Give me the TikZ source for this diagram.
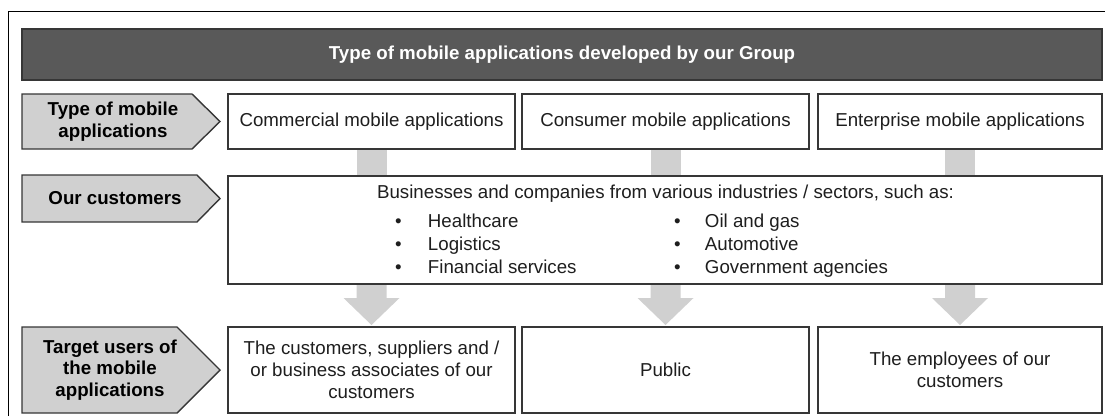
\documentclass[tikz,border=0pt]{standalone}
\usepackage{fontspec}
\setmainfont{Liberation Sans}
\usetikzlibrary{calc,backgrounds}
\definecolor{barfill}{HTML}{595959}
\definecolor{tagfill}{HTML}{D0D0D0}
\definecolor{edge}{HTML}{363636}
\definecolor{ink}{HTML}{1E1E1E}
\definecolor{linkgray}{HTML}{D0D0D0}

\begin{document}
\begin{tikzpicture}[x=1pt,y=-1pt,
  every node/.style={inner sep=0pt, outer sep=0pt},
  base/.style={font=\fontsize{18.7}{21.7}\selectfont, text=ink},
  box/.style={base, draw=edge, line width=1.4pt, fill=white, align=center},
  bar/.style={draw=edge, line width=1.4pt, fill=barfill, text=white,
    font=\fontsize{18.7}{21.7}\selectfont\bfseries},
  tag/.style={draw=edge, line width=1.4pt, fill=tagfill, line join=miter},
  tagtext/.style={font=\fontsize{18.7}{21.7}\selectfont\bfseries, text=black, align=center},
  link/.style={fill=linkgray},
  listtext/.style={font=\fontsize{18.7}{23}\selectfont, text=ink, anchor=west},
]
\useasboundingbox (0,0) rectangle (1105,416);

% outer frame (left and top edges)
\draw[line width=1pt, black] (8.5,416) -- (8.5,11) -- (1105,11);

% heading bar
\node[bar, minimum width=1080pt, minimum height=51pt] (title) at (562,54.5)
  {Type of mobile applications developed by our Group};

% row labels (pentagon tags)
\path[tag] (22,94) -- (192,94) -- (220,121.5) -- (192,149) -- (22,149) -- cycle;
\node[tagtext] (t1) at (113,121.5) {Type of mobile\\applications};
\path[tag] (22,175) -- (197,175) -- (220,198.5) -- (197,222) -- (22,222) -- cycle;
\node[tagtext] (t2) at (115,198.5) {Our customers};
\path[tag] (22,327) -- (177,327) -- (220,370) -- (177,413) -- (22,413) -- cycle;
\node[tagtext] (t3) at (110,370) {Target users of\\the mobile\\applications};

% row 1: application types
\node[box, minimum width=287pt, minimum height=55pt] (com) at (371.5,121.5) {Commercial mobile applications};
\node[box, minimum width=287pt, minimum height=55pt] (con) at (665.5,121.5) {Consumer mobile applications};
\node[box, minimum width=284pt, minimum height=55pt] (ent) at (960,121.5) {Enterprise mobile applications};

% row 2: customers
\node[box, minimum width=874pt, minimum height=108pt] (cust) at (665,230) {};
\node[base] (lead) at (665.5,193.5) {Businesses and companies from various industries / sectors, such as:};
\node[listtext] (list) at (395,246)
  {\begin{tabular}{@{}p{33pt}@{}p{246pt}@{}p{31pt}@{}l@{}}
   • & Healthcare & • & Oil and gas\\
   • & Logistics & • & Automotive\\
   • & Financial services & • & Government agencies
   \end{tabular}};

% row 3: target users
\node[box, minimum width=287pt, minimum height=86pt] (u1) at (371.5,370)
  {The customers, suppliers and /\\or business associates of our\\customers};
\node[box, minimum width=287pt, minimum height=86pt] (u2) at (665.5,370) {Public};
\node[box, minimum width=284pt, minimum height=86pt] (u3) at (960,370)
  {The employees of our\\customers};

% connectors
\begin{scope}[on background layer]
  \foreach \a in {com,con,ent} {
    \fill[link] ($(\a.south)+(-15,0)$) rectangle ($(\a.south |- cust.north)+(15,0)$);
  }
  \foreach \u in {u1,u2,u3} {
    \fill[link] ($(\u.north |- cust.south)+(-15,0)$) -- ++(0,14) -- ++(-13,0)
      -- ($(\u.north)+(0,-2)$) -- ($(\u.north |- cust.south)+(28,14)$) -- ++(-13,0)
      -- ($(\u.north |- cust.south)+(15,0)$) -- cycle;
  }
\end{scope}
\end{tikzpicture}
\end{document}
